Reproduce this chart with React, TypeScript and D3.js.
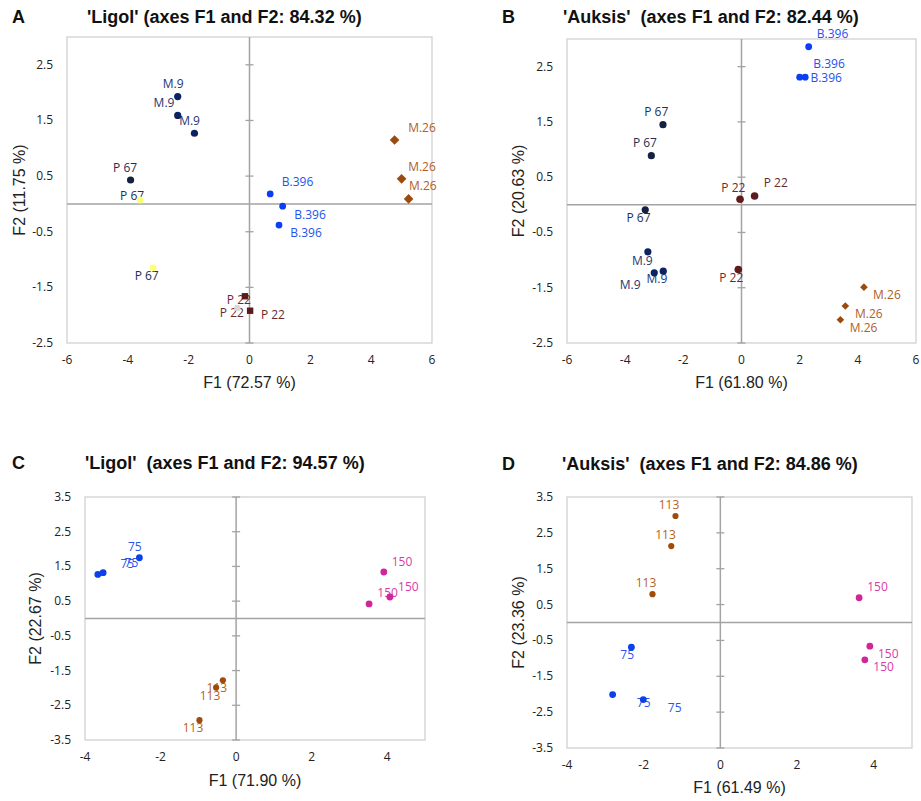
import React from "react";
import * as d3 from "d3";

type Rec = { s: string; t: string; x: number; y: number; lx: number; ly: number };

// ---- Data ----
// Panel A: 'Ligol' rootstocks
const ligolRootstocks: Rec[] = [
  { s: "m9", t: "M.9", x: -2.36, y: 1.93, lx: -2.51, ly: 2.08 },
  { s: "m9", t: "M.9", x: -2.36, y: 1.59, lx: -2.81, ly: 1.74 },
  { s: "m9", t: "M.9", x: -1.81, y: 1.27, lx: -1.97, ly: 1.41 },
  { s: "p67", t: "P 67", x: -3.91, y: 0.43, lx: -4.09, ly: 0.58 },
  { s: "p67y", t: "P 67", x: -3.6, y: 0.07, lx: -3.86, ly: 0.07 },
  { s: "p67y", t: "P 67", x: -3.17, y: -1.15, lx: -3.38, ly: -1.37 },
  { s: "b396", t: "B.396", x: 0.68, y: 0.18, lx: 1.58, ly: 0.33 },
  { s: "b396", t: "B.396", x: 1.09, y: -0.04, lx: 1.99, ly: -0.27 },
  { s: "b396", t: "B.396", x: 0.97, y: -0.38, lx: 1.86, ly: -0.6 },
  { s: "m26", t: "M.26", x: 4.77, y: 1.15, lx: 5.67, ly: 1.29 },
  { s: "m26", t: "M.26", x: 5.0, y: 0.45, lx: 5.67, ly: 0.6 },
  { s: "m26", t: "M.26", x: 5.23, y: 0.09, lx: 5.7, ly: 0.25 },
  { s: "p22g", t: "P 22", x: -0.4, y: -1.87, lx: -0.58, ly: -2.03 },
  { s: "p22sq", t: "P 22", x: -0.15, y: -1.66, lx: -0.35, ly: -1.8 },
  { s: "p22sq", t: "P 22", x: 0.02, y: -1.92, lx: 0.77, ly: -2.07 },
];

// Panel B: 'Auksis' rootstocks
const auksisRootstocks: Rec[] = [
  { s: "b396", t: "B.396", x: 2.31, y: 2.86, lx: 3.13, ly: 3.02 },
  { s: "b396", t: "B.396", x: 2.0, y: 2.31, lx: 3.01, ly: 2.47 },
  { s: "b396", t: "B.396", x: 2.19, y: 2.31, lx: 2.91, ly: 2.23 },
  { s: "p67", t: "P 67", x: -2.7, y: 1.45, lx: -2.93, ly: 1.61 },
  { s: "p67", t: "P 67", x: -3.1, y: 0.89, lx: -3.32, ly: 1.05 },
  { s: "p67", t: "P 67", x: -3.31, y: -0.09, lx: -3.54, ly: -0.31 },
  { s: "p22", t: "P 22", x: 0.45, y: 0.16, lx: 1.18, ly: 0.32 },
  { s: "p22", t: "P 22", x: -0.05, y: 0.1, lx: -0.28, ly: 0.23 },
  { s: "p22", t: "P 22", x: -0.11, y: -1.17, lx: -0.35, ly: -1.39 },
  { s: "m9", t: "M.9", x: -3.22, y: -0.85, lx: -3.41, ly: -1.08 },
  { s: "m9", t: "M.9", x: -3.0, y: -1.23, lx: -3.83, ly: -1.53 },
  { s: "m9", t: "M.9", x: -2.69, y: -1.2, lx: -2.91, ly: -1.42 },
  { s: "m26s", t: "M.26", x: 4.21, y: -1.49, lx: 5.0, ly: -1.71 },
  { s: "m26s", t: "M.26", x: 3.57, y: -1.83, lx: 4.38, ly: -2.05 },
  { s: "m26s", t: "M.26", x: 3.4, y: -2.08, lx: 4.2, ly: -2.3 },
];

// Panel C: 'Ligol' N levels
const ligolNitrogen: Rec[] = [
  { s: "n75", t: "75", x: -3.66, y: 1.27, lx: -2.88, ly: 1.46 },
  { s: "n75", t: "75", x: -3.52, y: 1.32, lx: -2.77, ly: 1.49 },
  { s: "n75", t: "75", x: -2.56, y: 1.75, lx: -2.68, ly: 1.94 },
  { s: "n150", t: "150", x: 3.91, y: 1.34, lx: 4.39, ly: 1.52 },
  { s: "n150", t: "150", x: 4.07, y: 0.62, lx: 4.56, ly: 0.8 },
  { s: "n150", t: "150", x: 3.52, y: 0.42, lx: 4.01, ly: 0.61 },
  { s: "n113", t: "113", x: -0.35, y: -1.78, lx: -0.51, ly: -2.11 },
  { s: "n113", t: "113", x: -0.53, y: -1.99, lx: -0.69, ly: -2.35 },
  { s: "n113", t: "113", x: -0.97, y: -2.93, lx: -1.14, ly: -3.26 },
];

// Panel D: 'Auksis' N levels
const auksisNitrogen: Rec[] = [
  { s: "n113", t: "113", x: -1.17, y: 2.97, lx: -1.34, ly: 3.16 },
  { s: "n113", t: "113", x: -1.28, y: 2.13, lx: -1.43, ly: 2.33 },
  { s: "n113", t: "113", x: -1.77, y: 0.79, lx: -1.94, ly: 0.98 },
  { s: "n150", t: "150", x: 3.62, y: 0.69, lx: 4.1, ly: 0.89 },
  { s: "n150", t: "150", x: 3.9, y: -0.66, lx: 4.38, ly: -0.98 },
  { s: "n150", t: "150", x: 3.77, y: -1.04, lx: 4.26, ly: -1.36 },
  { s: "n75", t: "75", x: -2.32, y: -0.69, lx: -2.43, ly: -1.01 },
  { s: "n75", t: "75", x: -2.81, y: -2.01, lx: -2.0, ly: -2.36 },
  { s: "n75", t: "75", x: -2.01, y: -2.15, lx: -1.19, ly: -2.5 },
];

const ticksX12 = [-6, -4, -2, 0, 2, 4, 6];
const ticksY12 = [-2.5, -1.5, -0.5, 0.5, 1.5, 2.5];
const ticksX34 = [-4, -2, 0, 2, 4];
const ticksY34 = [-3.5, -2.5, -1.5, -0.5, 0.5, 1.5, 2.5, 3.5];

const panelLetters = ["A", "B", "C", "D"];
const panelTitles = [
  "'Ligol' (axes F1 and F2: 84.32 %)",
  "'Auksis'  (axes F1 and F2: 82.44 %)",
  "'Ligol'  (axes F1 and F2: 94.57 %)",
  "'Auksis'  (axes F1 and F2: 84.86 %)",
];
const xTitles = ["F1 (72.57 %)", "F1 (61.80 %)", "F1 (71.90 %)", "F1 (61.49 %)"];
const yTitles = ["F2 (11.75 %)", "F2 (20.63 %)", "F2 (22.67 %)", "F2 (23.36 %)"];

// ---- Styles ----
const styles: Record<string, { shape: string; fill: string; text: string; size: number }> = {
  m9: { shape: "circle", fill: "#0c2262", text: "#1f3672", size: 3.6 },
  p67: { shape: "circle", fill: "#13223f", text: "#22304e", size: 3.6 },
  p67y: { shape: "circle", fill: "#ffff78", text: "#22304e", size: 3.4 },
  b396: { shape: "circle", fill: "#0b3df2", text: "#2552f0", size: 3.4 },
  m26: { shape: "diamond", fill: "#9c4a0c", text: "#b0601f", size: 4.8 },
  m26s: { shape: "diamond", fill: "#9c4a0c", text: "#b0601f", size: 3.8 },
  p22sq: { shape: "square", fill: "#5c1a1c", text: "#6a2a2c", size: 3.2 },
  p22g: { shape: "circle", fill: "#d8d8d8", text: "#6a2a2c", size: 3.2 },
  p22: { shape: "circle", fill: "#5e1c1e", text: "#6a2a2c", size: 3.8 },
  n75: { shape: "circle", fill: "#0b40ea", text: "#2a56ee", size: 3.4 },
  n150: { shape: "circle", fill: "#cf2699", text: "#d93aa8", size: 3.4 },
  n113: { shape: "circle", fill: "#9e4c0c", text: "#b5621e", size: 3.1 },
};

type Panel = {
  data: Rec[];
  frame: { l: number; r: number; t: number; b: number };
  xd: [number, number];
  yd: [number, number];
  xt: number[];
  yt: number[];
  letterX: number;
  titleX: number;
  titleY: number;
  xTitleY: number;
  yTitleX: number;
};

const panels: Panel[] = [
  { data: ligolRootstocks, frame: { l: 67, r: 432, t: 37, b: 343 }, xd: [-6, 6], yd: [-2.5, 3], xt: ticksX12, yt: ticksY12, letterX: 12, titleX: 87, titleY: 23, xTitleY: 388, yTitleX: 25 },
  { data: auksisRootstocks, frame: { l: 567, r: 916, t: 39, b: 343 }, xd: [-6, 6], yd: [-2.5, 3], xt: ticksX12, yt: ticksY12, letterX: 502, titleX: 563, titleY: 23, xTitleY: 388, yTitleX: 524 },
  { data: ligolNitrogen, frame: { l: 85, r: 425, t: 497, b: 740 }, xd: [-4, 5], yd: [-3.5, 3.5], xt: ticksX34, yt: ticksY34, letterX: 12, titleX: 85, titleY: 469, xTitleY: 786, yTitleX: 41 },
  { data: auksisNitrogen, frame: { l: 567, r: 912, t: 497, b: 748 }, xd: [-4, 5], yd: [-3.5, 3.5], xt: ticksX34, yt: ticksY34, letterX: 502, titleX: 562, titleY: 470, xTitleY: 793, yTitleX: 524 },
];

const AXIS = "#a3a3a3";
const FRAME = "#d2d2d2";
const LABEL_FONT = "'Open Sans', 'Noto Sans', sans-serif";
const TITLE_FONT = "'Liberation Sans', Arial, sans-serif";

function Marker({ shape, cx, cy, r, fill }: { shape: string; cx: number; cy: number; r: number; fill: string }) {
  if (shape === "diamond") {
    const p = `M${cx},${cy - r}L${cx + r},${cy}L${cx},${cy + r}L${cx - r},${cy}Z`;
    return <path d={p} fill={fill} />;
  }
  if (shape === "square") {
    return <rect x={cx - r} y={cy - r} width={2 * r} height={2 * r} fill={fill} />;
  }
  return <circle cx={cx} cy={cy} r={r} fill={fill} />;
}

function PanelView({ p, i }: { p: Panel; i: number }) {
  const x = d3.scaleLinear().domain(p.xd).range([p.frame.l, p.frame.r]);
  const y = d3.scaleLinear().domain(p.yd).range([p.frame.b, p.frame.t]);
  const x0 = x(0);
  const y0 = y(0);
  const fmt = (v: number) => String(v);
  return (
    <g>
      <text x={p.letterX} y={p.titleY} fontFamily={TITLE_FONT} fontWeight="bold" fontSize={18} fill="#111">
        {panelLetters[i]}
      </text>
      <text x={p.titleX} y={p.titleY} fontFamily={TITLE_FONT} fontWeight="bold" fontSize={18} fill="#111" xmlSpace="preserve" style={{ whiteSpace: "pre" }}>
        {panelTitles[i]}
      </text>
      <rect x={p.frame.l} y={p.frame.t} width={p.frame.r - p.frame.l} height={p.frame.b - p.frame.t} fill="#fff" stroke={FRAME} strokeWidth={1.3} />
      <line x1={p.frame.l} x2={p.frame.r} y1={y0} y2={y0} stroke={AXIS} strokeWidth={1.5} />
      <line x1={x0} x2={x0} y1={p.frame.t} y2={p.frame.b} stroke={AXIS} strokeWidth={1.5} />
      {p.yt.map((v) => (
        <line key={"tm" + v} x1={x0 - 4} x2={x0 + 4} y1={y(v)} y2={y(v)} stroke={AXIS} strokeWidth={1.3} />
      ))}
      {p.yt.map((v) => (
        <text key={"yt" + v} x={p.frame.l - 14} y={y(v) + 4} textAnchor="end" fontFamily={LABEL_FONT} fontSize={12} fill="#222">
          {fmt(v)}
        </text>
      ))}
      {p.xt.map((v) => (
        <text key={"xt" + v} x={x(v)} y={p.frame.b + 21} textAnchor="middle" fontFamily={LABEL_FONT} fontSize={12} fill="#222">
          {fmt(v)}
        </text>
      ))}
      <text x={(p.frame.l + p.frame.r) / 2} y={p.xTitleY} textAnchor="middle" fontFamily={TITLE_FONT} fontSize={16} fill="#222">
        {xTitles[i]}
      </text>
      <text
        transform={`translate(${p.yTitleX},${(p.frame.t + p.frame.b) / 2}) rotate(-90)`}
        textAnchor="middle"
        fontFamily={TITLE_FONT}
        fontSize={16}
        fill="#222"
      >
        {yTitles[i]}
      </text>
      {p.data.map((d, k) => (
        <text key={"lb" + k} x={x(d.lx)} y={y(d.ly)} textAnchor="middle" fontFamily={LABEL_FONT} fontSize={12} fill={styles[d.s].text}>
          {d.t}
        </text>
      ))}
      {p.data.map((d, k) => {
        const st = styles[d.s];
        return <Marker key={"pt" + k} shape={st.shape} cx={x(d.x)} cy={y(d.y)} r={st.size} fill={st.fill} />;
      })}
    </g>
  );
}

export default function App() {
  return (
    <svg width={921} height={801} style={{ position: "absolute", left: 0, top: 0, background: "#fff" }}>
      <rect x={0} y={0} width={921} height={801} fill="#fff" />
      {panels.map((p, i) => (
        <PanelView key={i} p={p} i={i} />
      ))}
    </svg>
  );
}
